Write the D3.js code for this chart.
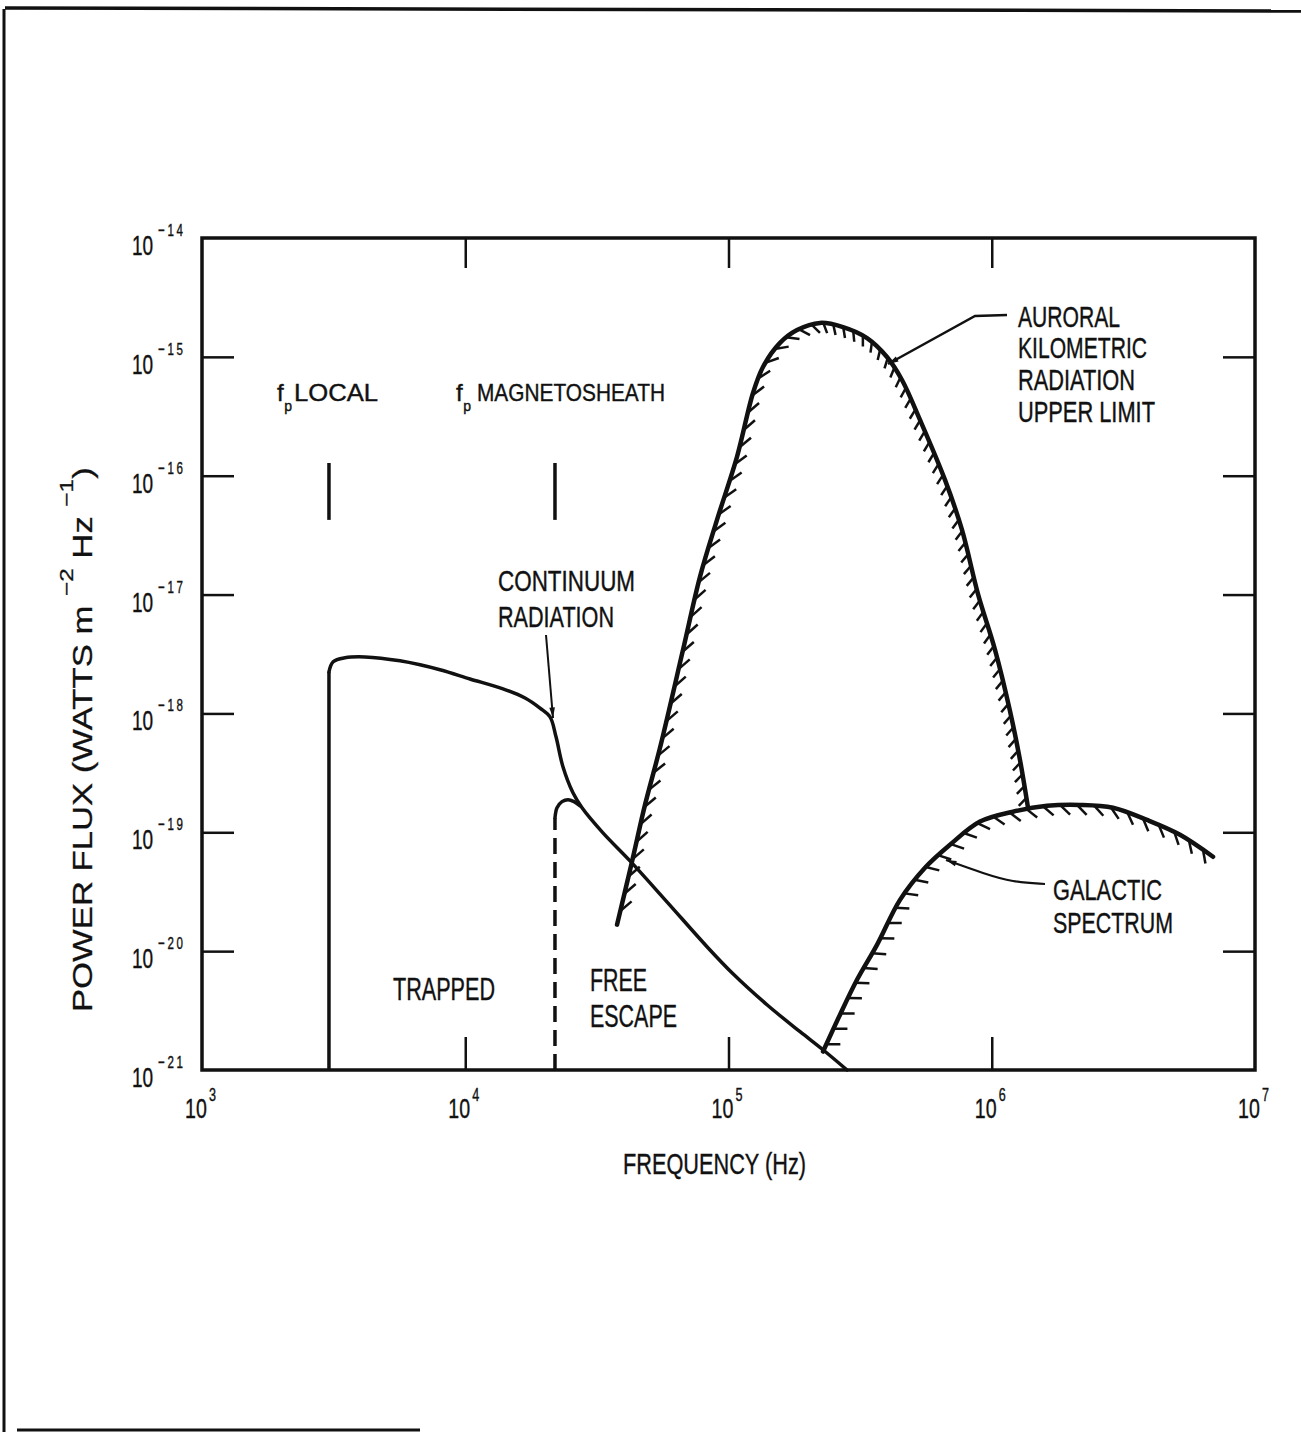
<!DOCTYPE html>
<html>
<head>
<meta charset="utf-8">
<script src="https://cdn.jsdelivr.net/npm/d3@7"></script>
<style>
  html, body { margin: 0; padding: 0; background: #fff; }
  svg text { font-family: "Liberation Sans", Arial, Helvetica, sans-serif; fill: #111; }
</style>
</head>
<body>
<svg id="chart" width="1301" height="1432"></svg>
<script>
// ---- data: radio spectra (frequency in Hz, power flux in W m^-2 Hz^-1) ----
const freqTicks = [1e3, 1e4, 1e5, 1e6, 1e7];
const freqTickExponents = ["3", "4", "5", "6", "7"];
const fluxTicks = [1e-14, 1e-15, 1e-16, 1e-17, 1e-18, 1e-19, 1e-20, 1e-21];
const fluxTickExponents = ["\u221214", "\u221215", "\u221216", "\u221217", "\u221218", "\u221219", "\u221220", "\u221221"];

// local and magnetosheath plasma frequencies
const plasmaFreqs = [3036, 21920];
const plasmaNames = ["LOCAL", "MAGNETOSHEATH"];
const plasmaMarkerFlux = [1.28e-16, 4.25e-17];

// continuum radiation (trapped below f_p, escaping above)
const continuumFreq = [3036, 3036, 3150, 3493, 4159, 5649, 8017, 10420, 13910, 16870, 19230, 20990,
  22120, 23504, 25656, 27770, 33350, 42250, 58360, 82850, 104000, 140000, 187000, 228500, 282000];
const continuumFlux = [1e-21, 2.24e-18, 2.72e-18, 2.94e-18, 2.99e-18, 2.77e-18, 2.33e-18, 1.95e-18,
  1.61e-18, 1.35e-18, 1.11e-18, 9.36e-19, 6.36e-19, 3.56e-19, 2.15e-19, 1.61e-19, 9.9e-20, 5.75e-20,
  2.60e-20, 1.09e-20, 6.45e-21, 3.54e-21, 2.10e-21, 1.48e-21, 1e-21];

// free-escape branch starting at the magnetosheath plasma frequency
const escapeFreq = [21920, 21920];
const escapeFlux = [1e-21, 1.32e-19];
const escapeCapFreq = [21920, 22313, 23310, 24570, 25890, 27290];
const escapeCapFlux = [1.32e-19, 1.61e-19, 1.81e-19, 1.88e-19, 1.81e-19, 1.67e-19];

// auroral kilometric radiation, upper limit
const akrFreq = [37720, 42990, 48170, 54930, 67180, 77920, 90430, 107700, 123900, 135200, 156900,
  182100, 222700, 272200, 335900, 400000, 456100, 533900, 664300, 770900, 886800, 1.029e6, 1.173e6,
  1.280e6, 1.373e6];
const akrFlux = [1.67e-20, 5.65e-20, 1.70e-19, 5.14e-19, 3.43e-18, 1.41e-17, 4.25e-17, 1.44e-16,
  4.97e-16, 8.22e-16, 1.31e-15, 1.68e-15, 1.93e-15, 1.78e-15, 1.44e-15, 9.98e-16, 6.39e-16, 2.95e-16,
  9.23e-17, 3.50e-17, 1.01e-17, 3.43e-18, 1.05e-18, 4.07e-19, 1.61e-19];

// galactic background spectrum
const galacticFreq = [228600, 265200, 307700, 366500, 448200, 557800, 694000, 902500, 1.204e6,
  1.622e6, 2.164e6, 2.888e6, 3.888e6, 5.190e6, 6.927e6];
const galacticFlux = [1.43e-21, 2.92e-21, 5.74e-21, 1.13e-20, 2.70e-20, 5.03e-20, 7.85e-20, 1.23e-19,
  1.49e-19, 1.67e-19, 1.70e-19, 1.61e-19, 1.27e-19, 9.53e-20, 6.22e-20];

const zip = (a, b) => a.map((v, i) => [v, b[i]]);

// ---- layout ----
const svg = d3.select("#chart");
const plot = { left: 202, right: 1255, top: 238, bottom: 1070 };

const x = d3.scaleLog().domain([1e3, 1e7]).range([plot.left, plot.right]);
const y = d3.scaleLog().domain([1e-21, 1e-14]).range([plot.bottom, plot.top]);

// page frame
const frame = svg.append("g").attr("stroke", "#111").attr("fill", "none");
frame.append("line").attr("x1", 5).attr("y1", 8).attr("x2", 1301).attr("y2", 11).attr("stroke-width", 3.5);
frame.append("line").attr("x1", 4).attr("y1", 9).attr("x2", 4).attr("y2", 1432).attr("stroke-width", 3);
frame.append("line").attr("x1", 17).attr("y1", 1430).attr("x2", 420).attr("y2", 1430).attr("stroke-width", 3);

// condensed text fitted to a fixed width
function ctext(parent, str, px, py, width, size) {
  return parent.append("text")
    .attr("x", px).attr("y", py)
    .attr("font-size", size)
    .attr("textLength", width)
    .attr("lengthAdjust", "spacingAndGlyphs")
    .attr("stroke", "#111").attr("stroke-width", 0.4)
    .text(str);
}

// "10" with a raised exponent, horizontally condensed
function powerLabel(parent, px, py, exp, o) {
  const g = parent.append("g").attr("transform", `translate(${px},${py}) scale(${o.sx},1)`);
  const t = g.append("text").attr("font-size", o.base).attr("stroke", "#111").attr("stroke-width", 0.4);
  t.append("tspan").text("10");
  t.append("tspan").attr("font-size", o.sup).attr("dx", o.dx).attr("dy", o.dy)
    .attr("letter-spacing", o.ls || 0).text(exp);
  return g;
}

// ---- axes (ticks point inward on all four sides) ----
const inner = [1e4, 1e5, 1e6];
const innerFlux = fluxTicks.slice(1, -1);
function styleAxis(g) {
  g.select(".domain").remove();
  g.selectAll(".tick line").attr("stroke", "#111").attr("stroke-width", 2.5);
}
svg.append("g").attr("transform", `translate(0,${plot.bottom})`)
  .call(d3.axisBottom(x).tickValues(inner).tickSize(-33).tickFormat(""))
  .call(styleAxis);
svg.append("g").attr("transform", `translate(0,${plot.top})`)
  .call(d3.axisTop(x).tickValues(inner).tickSize(-30).tickFormat(""))
  .call(styleAxis);
svg.append("g").attr("transform", `translate(${plot.left},0)`)
  .call(d3.axisLeft(y).tickValues(innerFlux).tickSize(-32).tickFormat(""))
  .call(styleAxis);
svg.append("g").attr("transform", `translate(${plot.right},0)`)
  .call(d3.axisRight(y).tickValues(innerFlux).tickSize(-32).tickFormat(""))
  .call(styleAxis);

svg.append("rect")
  .attr("x", plot.left).attr("y", plot.top)
  .attr("width", plot.right - plot.left).attr("height", plot.bottom - plot.top)
  .attr("fill", "none").attr("stroke", "#111").attr("stroke-width", 3.5);

// tick labels as powers of ten
const labels = svg.append("g");
freqTicks.forEach((v, i) => {
  powerLabel(labels, x(v) - 17, 1118, freqTickExponents[i], { sx: 0.7, base: 28, sup: 18, dx: 3, dy: -17 });
});
fluxTicks.forEach((v, i) => {
  powerLabel(labels, 132, y(v) + 17, fluxTickExponents[i], { sx: 0.68, base: 28, sup: 17, dx: 7, dy: -19, ls: 4 });
});

// axis titles
ctext(labels, "FREQUENCY (Hz)", 623, 1174, 183, 30);

const yTitle = svg.append("g").attr("transform", "translate(92,1012) rotate(-90)");
const yt = yTitle.append("text").attr("font-size", 27).attr("stroke", "#111").attr("stroke-width", 0.3);
yt.append("tspan").text("POWER FLUX (WATTS m ");
yt.append("tspan").attr("font-size", 19).attr("dy", -19).text("\u22122");
yt.append("tspan").attr("dy", 19).text(" Hz ");
yt.append("tspan").attr("font-size", 19).attr("dy", -19).text("\u22121");
yt.append("tspan").attr("dy", 19).text(")");
{
  const w = yt.node().getBBox().width;
  yt.attr("transform", `scale(${545 / w},1)`);
}

// ---- curves ----
const line = d3.line().x(d => x(d[0])).y(d => y(d[1])).curve(d3.curveCatmullRom.alpha(0.5));
const straight = d3.line().x(d => x(d[0])).y(d => y(d[1]));
const curves = svg.append("g").attr("fill", "none").attr("stroke", "#111")
  .attr("stroke-linecap", "round").attr("stroke-linejoin", "round");

// short strokes along a path, tilted from its normal toward the direction of travel
function hatch(pathNode, g, opt) {
  const L = pathNode.getTotalLength();
  let s = opt.start;
  while (s < L - opt.end) {
    const p = pathNode.getPointAtLength(s);
    const a = pathNode.getPointAtLength(Math.max(0, s - 1.5));
    const b = pathNode.getPointAtLength(Math.min(L, s + 1.5));
    let tx = b.x - a.x, ty = b.y - a.y;
    const m = Math.hypot(tx, ty) || 1; tx /= m; ty /= m;
    const nx = -ty, ny = tx;
    const ang = opt.angle(ty) * Math.PI / 180;
    const len = opt.len(ty);
    const dx = nx * Math.cos(ang) + tx * Math.sin(ang);
    const dy = ny * Math.cos(ang) + ty * Math.sin(ang);
    g.append("line")
      .attr("x1", p.x).attr("y1", p.y)
      .attr("x2", p.x + dx * len).attr("y2", p.y + dy * len);
    s += opt.step(ty);
  }
}

// continuum radiation: sharp cutoff at the local plasma frequency, then the spectrum
const continuum = zip(continuumFreq, continuumFlux);
curves.append("path").datum(continuum.slice(0, 2)).attr("d", straight)
  .attr("stroke-width", 3.5).attr("stroke-linecap", "butt");
curves.append("path").datum(continuum.slice(1)).attr("d", line).attr("stroke-width", 3.5);

// free escape branch (dashed) with its rounded cap
curves.append("path").datum(zip(escapeFreq, escapeFlux))
  .attr("d", straight)
  .attr("stroke-width", 3.5).attr("stroke-dasharray", "16,8").attr("stroke-linecap", "butt");
curves.append("path").datum(zip(escapeCapFreq, escapeCapFlux))
  .attr("d", line).attr("stroke-width", 3.5);

// AKR upper limit, hatched underneath
const akrPath = curves.append("path").datum(zip(akrFreq, akrFlux))
  .attr("d", line).attr("stroke-width", 4.5);
const akrHatch = curves.append("g").attr("stroke-width", 2.5).attr("stroke-linecap", "butt");
hatch(akrPath.node(), akrHatch, {
  start: 14, end: 4,
  len: ty => (ty < 0 ? 11 + 4 * (-ty) : 11),
  angle: ty => (ty < 0 ? 22 + 33 * (-ty) : 22 + 15 * ty),
  step: ty => (ty < 0 ? 10 + 8 * (-ty) : 10 + 2 * ty)
});

// galactic spectrum, hatched underneath
const galPath = curves.append("path").datum(zip(galacticFreq, galacticFlux))
  .attr("d", line).attr("stroke-width", 4.5);
const galHatch = curves.append("g").attr("stroke-width", 2.5).attr("stroke-linecap", "butt");
hatch(galPath.node(), galHatch, {
  start: 8, end: 6,
  len: () => 14,
  angle: ty => (ty < 0 ? 45 - 22 * (-ty) : 45),
  step: () => 17
});

// plasma frequency markers
plasmaFreqs.forEach(f => {
  curves.append("line")
    .attr("x1", x(f)).attr("x2", x(f))
    .attr("y1", y(plasmaMarkerFlux[0])).attr("y2", y(plasmaMarkerFlux[1]))
    .attr("stroke-width", 3.5).attr("stroke-linecap", "butt");
});

// ---- annotations ----
const ann = svg.append("g");
function fpLabel(px) {
  const t = ann.append("text").attr("x", px).attr("y", 401).attr("font-size", 24)
    .attr("stroke", "#111").attr("stroke-width", 0.4);
  t.append("tspan").text("f");
  t.append("tspan").attr("font-size", 14).attr("dx", 0.5).attr("dy", 10).text("p");
}
fpLabel(277);
ctext(ann, plasmaNames[0], 294, 401, 84, 24);
fpLabel(456);
ctext(ann, plasmaNames[1], 477, 401, 188, 24);

ctext(ann, "CONTINUUM", 498, 591, 137, 29);
ctext(ann, "RADIATION", 498, 627, 116, 29);
ctext(ann, "TRAPPED", 393, 1000, 102, 31);
ctext(ann, "FREE", 590, 991, 57, 31);
ctext(ann, "ESCAPE", 590, 1027, 87, 31);
ctext(ann, "AURORAL", 1018, 327, 102, 29);
ctext(ann, "KILOMETRIC", 1018, 358, 129, 29);
ctext(ann, "RADIATION", 1018, 390, 117, 29);
ctext(ann, "UPPER LIMIT", 1018, 422, 137, 29);
ctext(ann, "GALACTIC", 1053, 900, 109, 30);
ctext(ann, "SPECTRUM", 1053, 933, 120, 30);

// leader lines with arrowheads
svg.append("defs").append("marker")
  .attr("id", "tip").attr("viewBox", "0 0 12 8")
  .attr("refX", 12).attr("refY", 4)
  .attr("markerWidth", 12).attr("markerHeight", 7)
  .attr("markerUnits", "userSpaceOnUse").attr("orient", "auto")
  .append("path").attr("d", "M0,0.8 L12,4 L0,7.2 Z").attr("fill", "#111");

const leader = d3.line();
ann.append("path").attr("d", leader([[546, 635], [553, 718]]))
  .attr("fill", "none").attr("stroke", "#111").attr("stroke-width", 2).attr("marker-end", "url(#tip)");
ann.append("path").attr("d", leader([[1007, 315], [975, 316], [888, 364]]))
  .attr("fill", "none").attr("stroke", "#111").attr("stroke-width", 2.5).attr("marker-end", "url(#tip)");
ann.append("path").attr("d", d3.line().curve(d3.curveBasis)([[1045, 884], [1012, 882], [985, 874], [946, 860]]))
  .attr("fill", "none").attr("stroke", "#111").attr("stroke-width", 2.2).attr("marker-end", "url(#tip)");
</script>
</body>
</html>
